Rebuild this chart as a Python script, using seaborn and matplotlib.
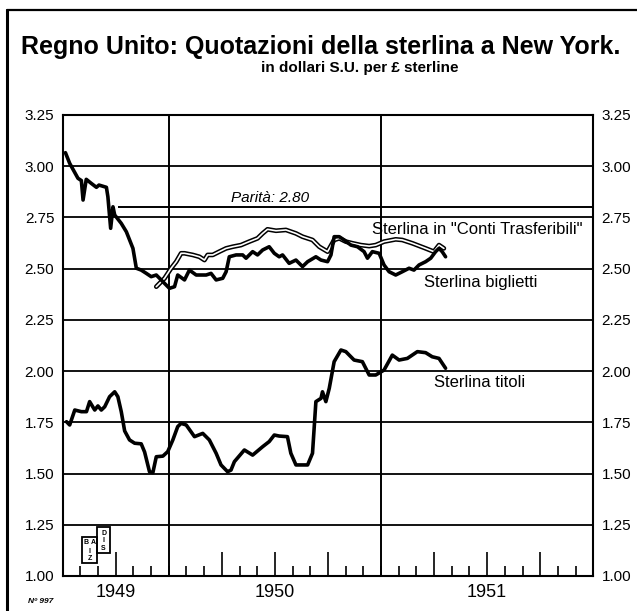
import numpy as np
import pandas as pd
import seaborn as sns
import matplotlib.pyplot as plt
from matplotlib.lines import Line2D
from matplotlib.patches import Rectangle

# Values (x = decimal year, y = dollars per pound)
biglietti_x = [1949.513, 1949.533, 1949.572, 1949.588, 1949.596, 1949.611, 1949.635,
               1949.659, 1949.671, 1949.706, 1949.713, 1949.726, 1949.737, 1949.745,
               1949.776, 1949.800, 1949.831, 1949.847, 1949.870, 1949.894, 1949.917,
               1949.941, 1949.964, 1949.980, 1950.003, 1950.027, 1950.042, 1950.074,
               1950.097, 1950.129, 1950.176, 1950.199, 1950.223, 1950.254, 1950.270,
               1950.285, 1950.317, 1950.348, 1950.364, 1950.395, 1950.418, 1950.442,
               1950.473, 1950.497, 1950.520, 1950.536, 1950.567, 1950.599, 1950.630,
               1950.654, 1950.693, 1950.717, 1950.748, 1950.764, 1950.779, 1950.803,
               1950.826, 1950.858, 1950.889, 1950.920, 1950.936, 1950.959, 1950.991,
               1951.014, 1951.038, 1951.069, 1951.100, 1951.132, 1951.155, 1951.179,
               1951.210, 1951.234, 1951.257, 1951.273, 1951.288, 1951.304]
biglietti_y = [3.066, 3.014, 2.941, 2.930, 2.835, 2.936, 2.916,
               2.897, 2.908, 2.897, 2.851, 2.697, 2.802, 2.762,
               2.721, 2.680, 2.599, 2.502, 2.493, 2.477, 2.461,
               2.469, 2.445, 2.428, 2.404, 2.412, 2.469, 2.445,
               2.493, 2.469, 2.469, 2.477, 2.445, 2.453, 2.485,
               2.558, 2.567, 2.567, 2.551, 2.583, 2.567, 2.591,
               2.607, 2.575, 2.558, 2.567, 2.526, 2.542, 2.510,
               2.534, 2.558, 2.542, 2.534, 2.567, 2.656, 2.656,
               2.640, 2.615, 2.607, 2.583, 2.551, 2.583, 2.575,
               2.518, 2.485, 2.469, 2.485, 2.502, 2.493, 2.518,
               2.534, 2.551, 2.583, 2.599, 2.583, 2.558]

conti_x = [1949.941, 1949.980, 1950.011, 1950.035, 1950.058, 1950.074, 1950.113,
           1950.144, 1950.168, 1950.183, 1950.207, 1950.238, 1950.270, 1950.301,
           1950.340, 1950.379, 1950.418, 1950.442, 1950.465, 1950.505, 1950.552,
           1950.599, 1950.630, 1950.677, 1950.709, 1950.748, 1950.779, 1950.803,
           1950.834, 1950.865, 1950.905, 1950.944, 1950.975, 1951.014, 1951.069,
           1951.100, 1951.147, 1951.210, 1951.249, 1951.273, 1951.296]
conti_y = [2.412, 2.453, 2.502, 2.534, 2.575, 2.575, 2.567,
           2.558, 2.542, 2.567, 2.567, 2.583, 2.599, 2.607,
           2.615, 2.632, 2.648, 2.672, 2.692, 2.685, 2.689,
           2.672, 2.656, 2.640, 2.607, 2.583, 2.640, 2.648,
           2.632, 2.624, 2.615, 2.610, 2.615, 2.632, 2.643,
           2.640, 2.624, 2.599, 2.583, 2.615, 2.599]

titoli_x = [1949.518, 1949.533, 1949.557, 1949.588, 1949.612, 1949.627, 1949.651,
            1949.666, 1949.682, 1949.698, 1949.721, 1949.745, 1949.760, 1949.776,
            1949.792, 1949.815, 1949.839, 1949.870, 1949.886, 1949.909, 1949.925,
            1949.941, 1949.972, 1949.995, 1950.019, 1950.042, 1950.058, 1950.082,
            1950.121, 1950.160, 1950.191, 1950.223, 1950.246, 1950.277, 1950.293,
            1950.309, 1950.356, 1950.395, 1950.442, 1950.473, 1950.497, 1950.520,
            1950.559, 1950.575, 1950.599, 1950.654, 1950.677, 1950.693, 1950.717,
            1950.724, 1950.740, 1950.756, 1950.779, 1950.811, 1950.834, 1950.873,
            1950.912, 1950.944, 1950.975, 1951.014, 1951.053, 1951.085, 1951.124,
            1951.171, 1951.210, 1951.241, 1951.273, 1951.304]
titoli_y = [1.753, 1.737, 1.810, 1.802, 1.802, 1.851, 1.810,
            1.830, 1.810, 1.826, 1.875, 1.899, 1.875, 1.802,
            1.708, 1.664, 1.648, 1.645, 1.605, 1.509, 1.505,
            1.582, 1.585, 1.607, 1.664, 1.729, 1.745, 1.737,
            1.680, 1.696, 1.664, 1.599, 1.542, 1.509, 1.517,
            1.558, 1.615, 1.590, 1.631, 1.656, 1.688, 1.683,
            1.680, 1.599, 1.542, 1.542, 1.599, 1.851, 1.867,
            1.899, 1.851, 1.916, 2.046, 2.103, 2.095, 2.054,
            2.046, 1.981, 1.981, 2.005, 2.078, 2.054, 2.062,
            2.095, 2.090, 2.070, 2.062, 2.014]

parity = 2.80
parity_start = 1949.76

y_ticks = [1.00, 1.25, 1.50, 1.75, 2.00, 2.25, 2.50, 2.75, 3.00, 3.25]
year_bounds = [1950, 1951]
year_centers = [1949.75, 1950.5, 1951.5]
year_labels = ["1949", "1950", "1951"]

sns.set_style("white")
plt.rcParams["font.family"] = ["Liberation Sans", "DejaVu Sans"]
plt.rcParams["text.color"] = "black"
plt.rcParams["xtick.color"] = "black"
plt.rcParams["ytick.color"] = "black"

fig = plt.figure(figsize=(6.37, 6.11), dpi=100)
ax = fig.add_axes([0.0984, 0.0573, 0.833, 0.7545])

df_big = pd.DataFrame({"x": biglietti_x, "y": biglietti_y})
df_conti = pd.DataFrame({"x": conti_x, "y": conti_y})
df_tit = pd.DataFrame({"x": titoli_x, "y": titoli_y})

# double line for the "conti trasferibili" series: black outline, white core
sns.lineplot(data=df_conti, x="x", y="y", ax=ax, color="black", lw=3.4,
             estimator=None, sort=False, zorder=4)
sns.lineplot(data=df_conti, x="x", y="y", ax=ax, color="white", lw=1.2,
             estimator=None, sort=False, zorder=5)
sns.lineplot(data=df_big, x="x", y="y", ax=ax, color="black", lw=2.6,
             estimator=None, sort=False, zorder=6)
sns.lineplot(data=df_tit, x="x", y="y", ax=ax, color="black", lw=2.6,
             estimator=None, sort=False, zorder=6)

ax.set_xlim(1949.5, 1952.0)
ax.set_ylim(1.0, 3.25)
ax.set_xlabel("")
ax.set_ylabel("")

# horizontal grid and the two year separators
ax.set_yticks(y_ticks)
ax.set_yticklabels([f"{v:.2f}" for v in y_ticks])
ax.grid(axis="y", color="black", lw=1.3)
ax.grid(axis="x", visible=False)
for yb in year_bounds:
    ax.axvline(yb, color="black", lw=1.4, zorder=3)
ax.hlines(parity, parity_start, 1952.0, color="black", lw=1.4, zorder=3)
ax.tick_params(axis="y", length=0, labelsize=11, pad=6,
               labelleft=True, labelright=True)

# month ticks inside the plot, taller ones on quarters
months = np.arange(1949.5 + 1 / 12, 1952.0, 1 / 12)
quarters = [m for m in months if round((m % 1) * 12) in (3, 6, 9)]
others = [m for m in months if round((m % 1) * 12) not in (0, 3, 6, 9)]
ax.set_xticks(quarters)
ax.set_xticks(others, minor=True)
ax.set_xticklabels([])
ax.tick_params(axis="x", which="major", direction="in", length=17, width=1.2,
               color="black", bottom=True)
ax.tick_params(axis="x", which="minor", direction="in", length=7.5, width=1.2,
               color="black", bottom=True)

sec = ax.secondary_xaxis("bottom")
sec.set_xticks(year_centers, labels=year_labels)
sec.tick_params(length=0, labelsize=13, pad=6)
sec.spines["bottom"].set_visible(False)

for side in ["left", "right", "top", "bottom"]:
    ax.spines[side].set_visible(True)
    ax.spines[side].set_color("black")
    ax.spines[side].set_linewidth(1.5)

# labels on the lines
ax.text(1950.295, 2.845, "Parità: 2.80", fontsize=11, style="italic",
        ha="left", va="center")
ax.text(1950.958, 2.693, 'Sterlina in "Conti Trasferibili"', fontsize=12,
        ha="left", va="center")
ax.text(1951.202, 2.431, "Sterlina biglietti", fontsize=12,
        ha="left", va="center")
ax.text(1951.249, 1.942, "Sterlina titoli", fontsize=12,
        ha="left", va="center")

# small publisher mark in the lower left corner
ax.add_patch(Rectangle((0.036, 0.028), 0.029, 0.057, transform=ax.transAxes,
                       fill=False, lw=1.3, color="black", zorder=7))
ax.add_patch(Rectangle((0.065, 0.050), 0.024, 0.056, transform=ax.transAxes,
                       fill=False, lw=1.3, color="black", zorder=7))
for tx, ty, ch in [(0.045, 0.072, "B"), (0.057, 0.072, "A"), (0.051, 0.054, "I"),
                   (0.051, 0.037, "Z"), (0.077, 0.093, "D"), (0.077, 0.076, "I"),
                   (0.077, 0.060, "S")]:
    ax.text(tx, ty, ch, transform=ax.transAxes, fontsize=5, fontweight="bold",
            ha="center", va="center")

# titles
fig.text(0.504, 0.912, "Regno Unito: Quotazioni della sterlina a New York.",
         ha="center", va="baseline", fontsize=18, fontweight="bold")
fig.text(0.565, 0.882, "in dollari S.U. per £ sterline", ha="center",
         va="baseline", fontsize=11, fontweight="bold")
fig.text(0.044, 0.015, "Nº 997", fontsize=6, style="italic", fontweight="bold",
         ha="left", va="center")

# outer frame of the page (left and top edges)
fig.add_artist(Line2D([0.011, 0.011], [0.0, 0.984], color="black", lw=2.2,
                      transform=fig.transFigure))
fig.add_artist(Line2D([0.011, 1.0], [0.984, 0.984], color="black", lw=1.6,
                      transform=fig.transFigure))

fig.savefig("out.png", dpi=100, facecolor="white")
